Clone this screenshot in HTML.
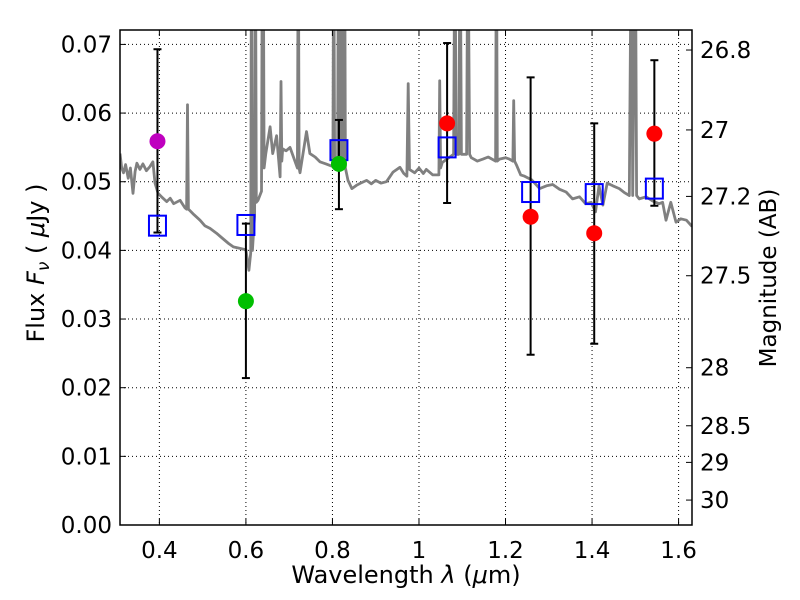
<!DOCTYPE html>
<html><head><meta charset="utf-8"><style>
body{margin:0;background:#fff}
svg{display:block;font-family:"DejaVu Sans","Liberation Sans",sans-serif}
</style></head><body>
<svg id="chart" width="800" height="600" xmlns="http://www.w3.org/2000/svg"></svg>
<script>
const xTicks=[0.4,0.6,0.8,1.0,1.2,1.4,1.6];
const xTickLabels=["0.4","0.6","0.8","1","1.2","1.4","1.6"];
const yTicks=[0,0.01,0.02,0.03,0.04,0.05,0.06,0.07];
const yTickLabels=["0.00","0.01","0.02","0.03","0.04","0.05","0.06","0.07"];
const magTicks=[26.8,27,27.2,27.5,28,28.5,29,30];
const magTickLabels=["26.8","27","27.2","27.5","28","28.5","29","30"];
const specLam=[0.309,0.313,0.317,0.322,0.328,0.333,0.339,0.344,0.348,0.355,0.362,0.370,0.378,0.385,0.390,0.397,0.405,0.417,0.425,0.433,0.448,0.453,0.459,0.463,0.465,0.467,0.469,0.480,0.494,0.505,0.517,0.532,0.545,0.560,0.571,0.585,0.600,0.607,0.611,0.613,0.615,0.620,0.622,0.624,0.628,0.636,0.638,0.640,0.642,0.646,0.656,0.662,0.671,0.679,0.681,0.683,0.685,0.693,0.702,0.719,0.721,0.723,0.725,0.740,0.748,0.760,0.771,0.785,0.801,0.803,0.805,0.807,0.812,0.814,0.816,0.818,0.820,0.822,0.824,0.826,0.828,0.830,0.836,0.845,0.856,0.865,0.879,0.890,0.900,0.912,0.925,0.940,0.956,0.965,0.972,0.975,0.978,0.990,1.000,1.010,1.017,1.032,1.046,1.048,1.050,1.054,1.080,1.083,1.086,1.092,1.095,1.098,1.110,1.113,1.117,1.121,1.135,1.148,1.160,1.177,1.179,1.181,1.186,1.200,1.209,1.217,1.219,1.221,1.225,1.235,1.244,1.260,1.279,1.295,1.309,1.325,1.340,1.355,1.371,1.385,1.398,1.408,1.416,1.425,1.435,1.448,1.463,1.475,1.486,1.491,1.494,1.500,1.503,1.509,1.525,1.540,1.555,1.563,1.571,1.582,1.594,1.605,1.618,1.631];
const specFlux=[0.0541,0.0520,0.0513,0.0525,0.0505,0.0520,0.0483,0.0515,0.0527,0.0518,0.0526,0.0516,0.0522,0.0529,0.0498,0.0483,0.0478,0.0471,0.0476,0.0468,0.0473,0.0468,0.0462,0.0460,0.0612,0.0460,0.0459,0.0452,0.0444,0.0436,0.0432,0.0425,0.0418,0.0410,0.0405,0.0403,0.0401,0.0371,0.0396,0.09,0.04,0.045,0.09,0.047,0.0473,0.0486,0.09,0.09,0.052,0.0541,0.058,0.0541,0.0567,0.0507,0.0646,0.053,0.0548,0.0545,0.0550,0.052,0.09,0.052,0.0513,0.0573,0.0541,0.0536,0.0529,0.0526,0.0522,0.09,0.053,0.052,0.053,0.09,0.052,0.09,0.052,0.09,0.09,0.053,0.09,0.052,0.0502,0.0490,0.0495,0.0498,0.0502,0.0497,0.0502,0.0498,0.0500,0.0514,0.0521,0.0512,0.0508,0.0643,0.0518,0.0513,0.0520,0.0512,0.0518,0.0510,0.051,0.0647,0.052,0.0528,0.054,0.09,0.054,0.054,0.09,0.054,0.054,0.09,0.054,0.0535,0.0530,0.0533,0.0536,0.053,0.09,0.053,0.0533,0.0535,0.0533,0.053,0.0618,0.053,0.0525,0.0510,0.0508,0.0503,0.0490,0.0494,0.0496,0.0489,0.0485,0.0475,0.0478,0.0468,0.0470,0.0456,0.0494,0.0466,0.0498,0.0494,0.0490,0.0484,0.048,0.09,0.048,0.09,0.048,0.0475,0.0478,0.0472,0.0468,0.0470,0.0444,0.0470,0.0441,0.0446,0.0444,0.0435];
const photLam=[0.3956,0.600,0.815,1.065,1.258,1.405,1.544];
const photFlux=[0.0559,0.0326,0.0526,0.0585,0.0449,0.0425,0.0570];
const errHigh=[0.0693,0.0439,0.0590,0.0702,0.0652,0.0585,0.0677];
const errLow=[0.0426,0.0214,0.0460,0.0469,0.0248,0.0264,0.0465];
const photColor=["#bf00bf","#00bf00","#00bf00","#ff0000","#ff0000","#ff0000","#ff0000"];
const modelLam=[0.3956,0.600,0.815,1.065,1.258,1.405,1.544];
const modelFlux=[0.0436,0.0437,0.0546,0.0550,0.0485,0.0482,0.0490];

const L=120,R=692,T=30,B=525;
const xMin=0.309,xMax=1.631,yMin=0,yMax=0.0721;
const X=v=>L+(v-xMin)/(xMax-xMin)*(R-L);
const Y=v=>B-(v-yMin)/(yMax-yMin)*(B-T);
const svg=document.getElementById('chart');
const NS="http://www.w3.org/2000/svg";
function mk(tag,attrs,parent){const e=document.createElementNS(NS,tag);for(const k in attrs)e.setAttribute(k,attrs[k]);(parent||svg).appendChild(e);return e;}
const defs=mk('defs',{});
const cp=mk('clipPath',{id:'plotclip'},defs);mk('rect',{x:L,y:T,width:R-L,height:B-T},cp);

const grid=mk('g',{});


xTicks.forEach(v=>{mk('line',{x1:X(v),x2:X(v),y1:T,y2:B,stroke:'#000','stroke-width':1,'stroke-dasharray':'1,3'},grid);});
yTicks.forEach(v=>{mk('line',{x1:L,x2:R,y1:Y(v),y2:Y(v),stroke:'#000','stroke-width':1,'stroke-dasharray':'1,3'},grid);});

const pts=specLam.map((l,i)=>X(l).toFixed(1)+','+Y(specFlux[i]).toFixed(1)).join(' ');
const spec=mk('polyline',{points:pts,fill:'none',stroke:'#808080','stroke-width':2.8,'stroke-linejoin':'round','clip-path':'url(#plotclip)'});



photLam.forEach((l,i)=>{
  const g=mk('g',{});
  
  
  const x=X(l);
  mk('line',{x1:x,x2:x,y1:Y(errLow[i]),y2:Y(errHigh[i]),stroke:'#000','stroke-width':2},g);
  mk('line',{x1:x-4,x2:x+4,y1:Y(errLow[i]),y2:Y(errLow[i]),stroke:'#000','stroke-width':2},g);
  mk('line',{x1:x-4,x2:x+4,y1:Y(errHigh[i]),y2:Y(errHigh[i]),stroke:'#000','stroke-width':2},g);
});
modelLam.forEach((l,i)=>{
  const s=mk('rect',{x:X(l)-8.5,y:Y(modelFlux[i])-10,width:17,height:20,fill:'none',stroke:'#0000ff','stroke-width':2});
  
  
});
photLam.forEach((l,i)=>{
  const c=mk('circle',{cx:X(l),cy:Y(photFlux[i]),r:8,fill:photColor[i]});
  
  
});

const frame=mk('rect',{x:L,y:T,width:R-L,height:B-T,fill:'none',stroke:'#000','stroke-width':1.5});



xTicks.forEach((v,i)=>{
  mk('line',{x1:X(v),x2:X(v),y1:B,y2:B-6,stroke:'#000'});
  mk('line',{x1:X(v),x2:X(v),y1:T,y2:T+6,stroke:'#000'});
  const t=mk('text',{x:X(v),y:B+33,'text-anchor':'middle','font-size':23});
  t.textContent=xTickLabels[i];
  
  
});
yTicks.forEach((v,i)=>{
  mk('line',{x1:L,x2:L+6,y1:Y(v),y2:Y(v),stroke:'#000'});
  const t=mk('text',{x:L-8,y:Y(v)+8,'text-anchor':'end','font-size':23});
  t.textContent=yTickLabels[i];
  
  
});
magTicks.forEach((m,i)=>{
  const f=Math.pow(10,(23.9-m)/2.5);
  const y=Y(f);
  mk('line',{x1:R,x2:R-6,y1:y,y2:y,stroke:'#000'});
  const t=mk('text',{x:R+8,y:y+8,'font-size':23});
  t.textContent=magTickLabels[i];
  
  
});
</script>
<svg style="position:absolute;left:0;top:0" width="800" height="600" xmlns="http://www.w3.org/2000/svg" font-family="DejaVu Sans, Liberation Sans, sans-serif">
<text x="406" y="583" text-anchor="middle" font-size="24">Wavelength  <tspan font-style="italic">λ</tspan> (<tspan font-style="italic">μ</tspan>m)</text>
<text transform="translate(44,263) rotate(-90)" text-anchor="middle" font-size="24">Flux  <tspan font-style="italic">F</tspan><tspan font-style="italic" font-size="17" dy="5">ν</tspan><tspan dy="-5">  ( </tspan><tspan font-style="italic">μ</tspan>Jy )</text>
<text transform="translate(776,278) rotate(-90)" text-anchor="middle" font-size="23">Magnitude (AB)</text>
</svg>
</body></html>
